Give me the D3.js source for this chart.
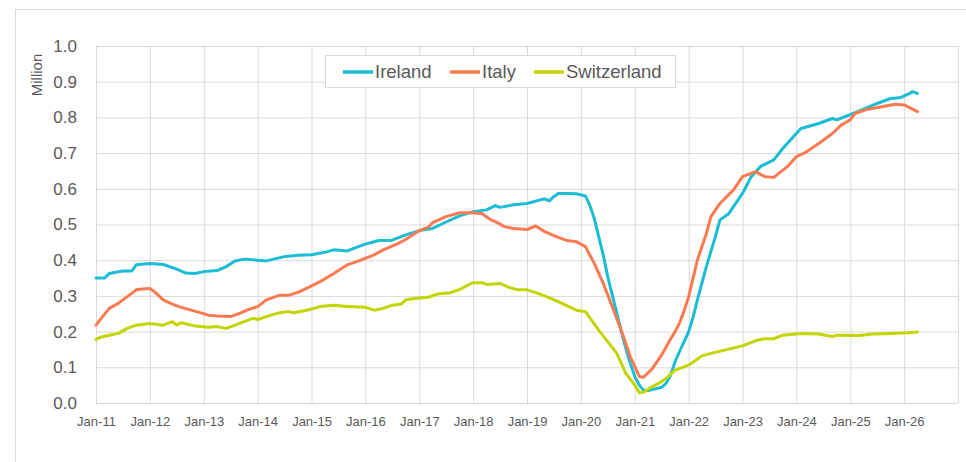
<!DOCTYPE html>
<html>
<head>
<meta charset="utf-8">
<script src="https://cdn.jsdelivr.net/npm/d3@7"></script>
<style>
  body { margin: 0; background: #ffffff; }
  svg text { font-family: "Liberation Sans", Arial, sans-serif; fill: #595959; }
</style>
</head>
<body>
<svg id="chart"></svg>
<script>
// readings taken off the chart (month, value in millions)
const ireland_months = ["2011-01","2011-03","2011-04","2011-07","2011-09","2011-10","2012-01","2012-04","2012-07","2012-09","2012-11","2013-01","2013-04","2013-06","2013-08","2013-10","2014-01","2014-03","2014-07","2014-10","2015-01","2015-04","2015-06","2015-09","2015-11","2016-01","2016-04","2016-07","2016-10","2017-01","2017-04","2017-07","2017-10","2018-01","2018-04","2018-06","2018-07","2018-10","2019-01","2019-04","2019-05","2019-06","2019-07","2019-08","2019-10","2019-12","2020-01","2020-02","2020-03","2020-04","2020-05","2020-06","2020-07","2020-08","2020-09","2020-10","2020-11","2020-12","2021-01","2021-02","2021-03","2021-04","2021-06","2021-07","2021-08","2021-09","2021-10","2021-11","2021-12","2022-01","2022-02","2022-03","2022-05","2022-07","2022-08","2022-10","2023-01","2023-03","2023-05","2023-08","2023-10","2023-12","2024-02","2024-06","2024-09","2024-10","2025-02","2025-07","2025-10","2025-12","2026-02","2026-03","2026-04"];
const ireland_values = [0.350,0.350,0.363,0.370,0.370,0.387,0.391,0.388,0.375,0.364,0.363,0.368,0.371,0.382,0.398,0.403,0.400,0.398,0.410,0.414,0.415,0.422,0.429,0.426,0.436,0.445,0.455,0.456,0.471,0.483,0.489,0.507,0.524,0.536,0.541,0.553,0.548,0.555,0.559,0.569,0.572,0.566,0.578,0.587,0.587,0.586,0.583,0.580,0.555,0.517,0.466,0.415,0.354,0.303,0.251,0.200,0.153,0.111,0.074,0.050,0.036,0.035,0.041,0.044,0.055,0.078,0.116,0.145,0.172,0.200,0.242,0.289,0.382,0.466,0.513,0.531,0.587,0.634,0.662,0.681,0.713,0.741,0.769,0.783,0.797,0.793,0.813,0.839,0.853,0.855,0.866,0.872,0.867];

const italy_months = ["2011-01","2011-02","2011-04","2011-06","2011-08","2011-10","2011-12","2012-01","2012-02","2012-04","2012-06","2012-08","2012-10","2012-12","2013-02","2013-04","2013-07","2013-09","2013-11","2014-01","2014-03","2014-06","2014-08","2014-10","2014-12","2015-03","2015-06","2015-09","2015-12","2016-03","2016-05","2016-08","2016-10","2017-01","2017-03","2017-04","2017-07","2017-10","2018-01","2018-03","2018-05","2018-06","2018-08","2018-10","2019-01","2019-03","2019-05","2019-08","2019-10","2019-12","2020-02","2020-04","2020-06","2020-08","2020-10","2020-12","2021-02","2021-03","2021-05","2021-07","2021-09","2021-10","2021-11","2021-12","2022-01","2022-03","2022-05","2022-06","2022-08","2022-11","2023-01","2023-04","2023-06","2023-08","2023-11","2024-01","2024-03","2024-06","2024-09","2024-11","2025-01","2025-02","2025-05","2025-08","2025-11","2026-01","2026-04"];
const italy_values = [0.218,0.235,0.265,0.279,0.298,0.317,0.320,0.321,0.312,0.289,0.277,0.268,0.261,0.254,0.246,0.244,0.242,0.251,0.262,0.270,0.289,0.302,0.302,0.310,0.322,0.340,0.363,0.387,0.400,0.415,0.429,0.445,0.458,0.483,0.492,0.505,0.522,0.533,0.533,0.531,0.513,0.508,0.494,0.489,0.486,0.496,0.480,0.464,0.455,0.452,0.438,0.391,0.335,0.270,0.204,0.130,0.074,0.072,0.097,0.134,0.180,0.200,0.225,0.258,0.298,0.400,0.475,0.522,0.559,0.597,0.634,0.648,0.634,0.632,0.662,0.690,0.701,0.727,0.755,0.779,0.793,0.811,0.823,0.830,0.837,0.835,0.816];

const switzerland_months = ["2011-01","2011-02","2011-04","2011-06","2011-08","2011-10","2012-01","2012-04","2012-06","2012-07","2012-08","2012-11","2013-02","2013-04","2013-06","2013-08","2013-10","2013-12","2014-01","2014-04","2014-06","2014-08","2014-09","2014-12","2015-03","2015-06","2015-09","2016-01","2016-03","2016-05","2016-07","2016-09","2016-10","2016-12","2017-03","2017-05","2017-08","2017-10","2017-12","2018-01","2018-03","2018-04","2018-07","2018-09","2018-11","2019-01","2019-03","2019-05","2019-08","2019-10","2019-12","2020-02","2020-05","2020-07","2020-09","2020-11","2021-01","2021-02","2021-03","2021-05","2021-07","2021-08","2021-10","2022-01","2022-04","2022-06","2022-09","2023-01","2023-04","2023-06","2023-08","2023-10","2024-02","2024-06","2024-09","2024-10","2025-03","2025-06","2025-10","2026-02","2026-04"];
const switzerland_values = [0.178,0.184,0.190,0.195,0.209,0.218,0.223,0.218,0.228,0.218,0.225,0.216,0.212,0.214,0.209,0.218,0.228,0.237,0.234,0.246,0.253,0.256,0.253,0.260,0.270,0.274,0.270,0.268,0.260,0.265,0.274,0.277,0.289,0.293,0.296,0.305,0.309,0.318,0.331,0.337,0.337,0.332,0.335,0.324,0.317,0.317,0.309,0.300,0.284,0.272,0.260,0.256,0.204,0.172,0.139,0.083,0.050,0.029,0.030,0.046,0.060,0.069,0.092,0.106,0.132,0.139,0.148,0.160,0.175,0.180,0.180,0.190,0.195,0.193,0.186,0.190,0.189,0.193,0.195,0.197,0.199];

const series_names = ["Ireland", "Italy", "Switzerland"];
const series_colors = ["#1bbcd5", "#fb7a52", "#c3d400"];
const y_ticks = [0, 0.1, 0.2, 0.3, 0.4, 0.5, 0.6, 0.7, 0.8, 0.9, 1.0];
const x_tick_years = d3.range(2011, 2027);

const parse_month = d3.timeParse("%Y-%m");

function get_svg() {
    return d3.select("#chart")
        .attr("width", 966)
        .attr("height", 462);
}

function build_series() {
    const months = [ireland_months, italy_months, switzerland_months];
    const values = [ireland_values, italy_values, switzerland_values];
    return series_names.map((name, i) => ({
        name: name,
        color: series_colors[i],
        points: months[i].map((m, j) => ({ date: parse_month(m), value: values[i][j] }))
    }));
}

function draw_chart() {
    const svg = get_svg();
    const plot = { left: 96, right: 958, top: 46, bottom: 403 };

    // outer chart frame
    svg.append("rect")
        .attr("x", 15.5).attr("y", 9.5)
        .attr("width", 1000).attr("height", 1000)
        .attr("fill", "none")
        .attr("stroke", "#d9d9d9");

    const x = d3.scaleTime()
        .domain([new Date(2011, 0, 1), new Date(2027, 0, 1)])
        .range([plot.left, plot.right]);
    const y = d3.scaleLinear()
        .domain([0, 1])
        .range([plot.bottom, plot.top]);

    // horizontal grid + y labels
    const y_axis = svg.append("g")
        .attr("transform", `translate(${plot.left},0)`)
        .call(d3.axisLeft(y).tickValues(y_ticks)
            .tickSize(-(plot.right - plot.left))
            .tickPadding(19)
            .tickFormat(d3.format(".1f")));
    y_axis.select(".domain").remove();
    y_axis.selectAll("line").attr("stroke", "#d9d9d9");
    y_axis.selectAll("text").attr("font-size", 17).attr("fill", "#595959");

    // vertical grid + x labels
    const x_axis = svg.append("g")
        .attr("transform", `translate(0,${plot.bottom})`)
        .call(d3.axisBottom(x)
            .tickValues(x_tick_years.concat([2027]).map(yr => new Date(yr, 0, 1)))
            .tickSize(-(plot.bottom - plot.top))
            .tickPadding(14)
            .tickFormat(d => d.getFullYear() === 2027 ? "" : d3.timeFormat("Jan-%y")(d)));
    x_axis.select(".domain").remove();
    x_axis.selectAll("line").attr("stroke", "#d9d9d9");
    x_axis.selectAll("text").attr("font-size", 13).attr("fill", "#595959");

    svg.append("text")
        .attr("transform", "translate(42,75) rotate(-90)")
        .attr("text-anchor", "middle")
        .attr("font-size", 15)
        .text("Million");

    const line = d3.line()
        .x(d => x(d.date))
        .y(d => y(d.value));

    const series = build_series();
    svg.append("g")
        .selectAll("path")
        .data(series)
        .enter().append("path")
        .attr("d", d => line(d.points))
        .attr("fill", "none")
        .attr("stroke", d => d.color)
        .attr("stroke-width", 3)
        .attr("stroke-linejoin", "round")
        .attr("stroke-linecap", "round");

    draw_legend(svg, series);
}

function draw_legend(svg, series) {
    const legend = svg.append("g");
    legend.append("rect")
        .attr("x", 325.5).attr("y", 55.5)
        .attr("width", 350).attr("height", 32)
        .attr("fill", "#ffffff")
        .attr("stroke", "#d9d9d9");

    const offsets = [343, 450, 534];
    const item = legend.selectAll(".item")
        .data(series)
        .enter().append("g")
        .attr("class", "item")
        .attr("transform", (d, i) => `translate(${offsets[i]},72)`);
    item.append("line")
        .attr("x1", 0).attr("x2", 30)
        .attr("stroke", d => d.color)
        .attr("stroke-width", 3.5);
    item.append("text")
        .attr("x", 32)
        .attr("dy", "0.35em")
        .attr("font-size", 18.5)
        .text(d => d.name);
}

draw_chart();
</script>
</body>
</html>
